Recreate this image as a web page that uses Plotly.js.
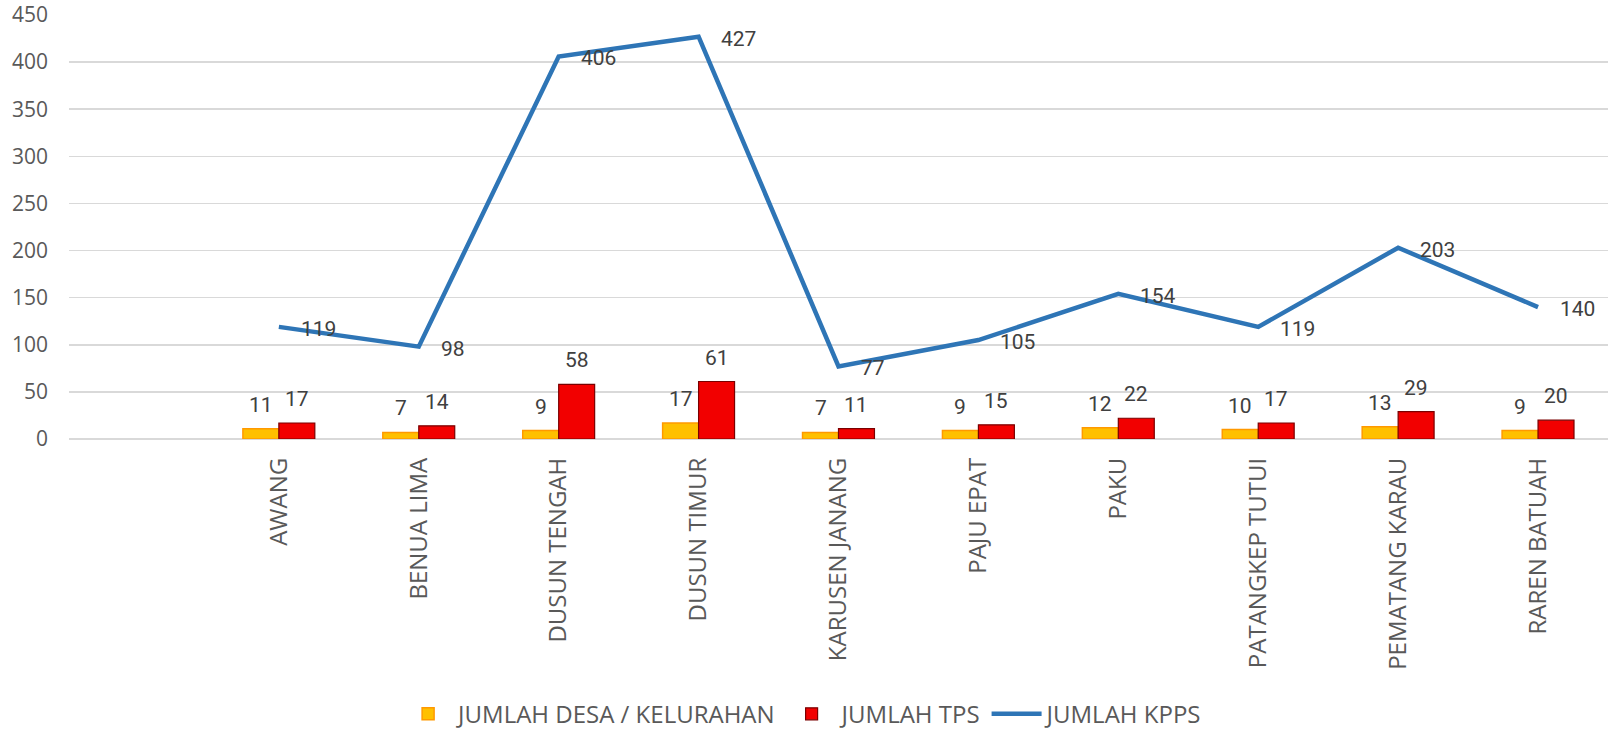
<!DOCTYPE html>
<html>
<head>
<meta charset="utf-8">
<script src="https://cdn.plot.ly/plotly-3.0.1.min.js"></script>
<style>
  html, body { margin: 0; padding: 0; background: #ffffff; }
  #chart { width: 1613px; height: 733px; }
</style>
</head>
<body>
<div id="chart"></div>
<script>
// ---- data ----
const categories = ['AWANG', 'BENUA LIMA', 'DUSUN TENGAH', 'DUSUN TIMUR', 'KARUSEN JANANG',
                    'PAJU EPAT', 'PAKU', 'PATANGKEP TUTUI', 'PEMATANG KARAU', 'RAREN BATUAH'];
const jumlahDesa = [11, 7, 9, 17, 7, 9, 12, 10, 13, 9];
const jumlahTPS  = [17, 14, 58, 61, 11, 15, 22, 17, 29, 20];
const jumlahKPPS = [119, 98, 406, 427, 77, 105, 154, 119, 203, 140];
const seriesNames = ['JUMLAH DESA / KELURAHAN', 'JUMLAH TPS', 'JUMLAH KPPS'];
const yTicks = [0, 50, 100, 150, 200, 250, 300, 350, 400, 450];

// ---- style ----
const bargap = 0.486;
const barOffset = (1 - bargap) / 4;
const labelFont = { family: 'Roboto, "DejaVu Sans Condensed", sans-serif', size: 21, color: '#404040' };
const axisFont = { family: '"Open Sans", sans-serif', size: 21, color: '#595959' };

const traces = [
  {
    type: 'bar', name: seriesNames[0], x: categories, y: jumlahDesa,
    marker: { color: '#FFC000', line: { color: '#FF9900', width: 1.5 } },
    hoverinfo: 'skip'
  },
  {
    type: 'bar', name: seriesNames[1], x: categories, y: jumlahTPS,
    marker: { color: '#F20000', line: { color: '#7A0000', width: 1.2 } },
    hoverinfo: 'skip'
  },
  {
    type: 'scatter', mode: 'lines', name: seriesNames[2], x: categories, y: jumlahKPPS,
    line: { color: '#2E75B6', width: 4.5 },
    hoverinfo: 'skip'
  }
];

const annotations = [];
categories.forEach((c, i) => {
  annotations.push({
    x: i - barOffset, y: jumlahDesa[i], xref: 'x', yref: 'y',
    text: String(jumlahDesa[i]), showarrow: false, yanchor: 'middle', yshift: 24,
    font: labelFont
  });
  annotations.push({
    x: i + barOffset, y: jumlahTPS[i], xref: 'x', yref: 'y',
    text: String(jumlahTPS[i]), showarrow: false, yanchor: 'middle', yshift: 24,
    font: labelFont
  });
  annotations.push({
    x: i, y: jumlahKPPS[i], xref: 'x', yref: 'y',
    text: String(jumlahKPPS[i]), showarrow: false, xanchor: 'left', yanchor: 'middle',
    xshift: 20, yshift: -2, font: labelFont
  });
});

const layout = {
  width: 1613, height: 733,
  margin: { l: 68.5, r: 4.5, t: 15.4, b: 294, autoexpand: false },
  paper_bgcolor: '#ffffff', plot_bgcolor: '#ffffff',
  barmode: 'group', bargap: bargap, bargroupgap: 0,
  showlegend: true,
  legend: {
    orientation: 'h', x: 0.477, xanchor: 'center', y: -0.649, yanchor: 'middle',
    font: { family: '"Open Sans", sans-serif', size: 24, color: '#595959' },
    itemwidth: 50, traceorder: 'normal'
  },
  xaxis: {
    type: 'category', range: [-1.5, 9.5], automargin: false,
    tickangle: -90, tickfont: { family: '"Open Sans", sans-serif', size: 24, color: '#595959' },
    showgrid: false, showline: false, ticks: '', ticklabelstandoff: 13,
    fixedrange: true
  },
  yaxis: {
    range: [0, 450], tickvals: yTicks, ticktext: yTicks.map(String), automargin: false,
    tickfont: axisFont, showgrid: true, gridcolor: '#D9D9D9', gridwidth: 1.5,
    zeroline: true, zerolinecolor: '#D9D9D9', zerolinewidth: 1.5,
    showline: false, ticks: '', ticklabelstandoff: 20, fixedrange: true
  },
  annotations: annotations
};

Plotly.newPlot('chart', traces, layout, { staticPlot: true, displayModeBar: false });
</script>
</body>
</html>
